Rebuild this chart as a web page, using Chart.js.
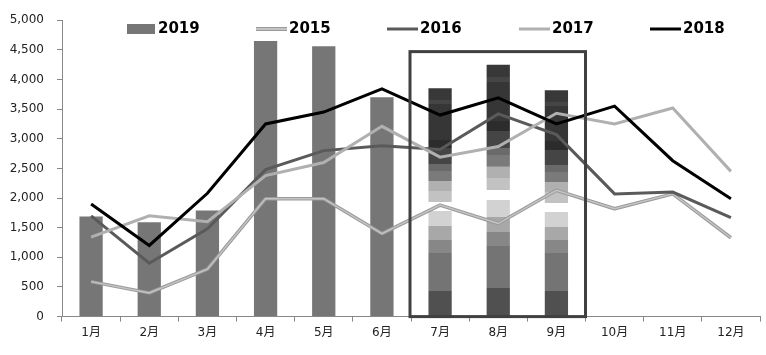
<!DOCTYPE html>
<html>
<head>
<meta charset="utf-8">
<script src="https://cdn.jsdelivr.net/npm/chart.js@4"></script>
<style>
html,body{margin:0;padding:0;background:#fff;}
#wrap{width:766px;height:355px;position:relative;}
</style>
</head>
<body>
<div id="wrap"><canvas id="c" width="766" height="355"></canvas></div>
<script>
// ---- data ----
const categories = ['1月','2月','3月','4月','5月','6月','7月','8月','9月','10月','11月','12月'];
const s2019 = [1690, 1590, 1790, 4650, 4560, 3700, 3850, 4250, 3820, null, null, null];
const s2015 = [590, 400, 800, 1990, 1990, 1400, 1880, 1570, 2130, 1820, 2070, 1330];
const s2016 = [1700, 900, 1480, 2480, 2800, 2880, 2820, 3420, 3070, 2070, 2100, 1670];
const s2017 = [1340, 1700, 1600, 2380, 2600, 3210, 2690, 2870, 3430, 3250, 3520, 2450];
const s2018 = [1900, 1200, 2080, 3250, 3450, 3840, 3400, 3690, 3250, 3550, 2630, 1990];
const yTicks = [0, 500, 1000, 1500, 2000, 2500, 3000, 3500, 4000, 4500, 5000];
const highlightMonths = ['7月', '8月', '9月'];
const highlightTopValue = 4470;

// ---- styles ----
const barColor = '#767676';
const stripeStops = [
  [0.000, '#505050'], [0.113, '#747474'], [0.280, '#878787'], [0.337, '#a8a8a8'],
  [0.397, '#d2d2d2'], [0.463, '#ffffff'], [0.502, '#c2c2c2'], [0.550, '#b0b0b0'],
  [0.596, '#7a7a7a'], [0.640, '#6a6a6a'], [0.670, '#454545'], [0.737, '#2c2c2c'],
  [0.776, '#363636'], [0.930, '#454545'], [0.950, '#383838'], [1.000, '#383838']
];

function stripedFill(ctx) {
  const chart = ctx.chart;
  const label = categories[ctx.dataIndex];
  if (!highlightMonths.includes(label) || ctx.raw == null) return barColor;
  const ys = chart.scales.y;
  if (!ys) return barColor;
  const base = ys.getPixelForValue(0);
  const top = ys.getPixelForValue(ctx.raw);
  const g = chart.ctx.createLinearGradient(0, base, 0, top);
  for (let i = 0; i < stripeStops.length; i++) {
    const [f, c] = stripeStops[i];
    const next = i + 1 < stripeStops.length ? stripeStops[i + 1][0] : 1;
    g.addColorStop(f, c);
    g.addColorStop(Math.max(f, next - 0.0005), c);
  }
  return g;
}

// outline under the 2015 line
const outlinePlugin = {
  id: 'outline2015',
  beforeDatasetDraw(chart, args) {
    const ds = chart.data.datasets[args.index];
    if (!ds.outlineColor) return;
    const pts = args.meta.data;
    const c = chart.ctx;
    c.save();
    c.beginPath();
    pts.forEach((p, i) => { if (i === 0) c.moveTo(p.x, p.y); else c.lineTo(p.x, p.y); });
    c.strokeStyle = ds.outlineColor;
    c.lineWidth = ds.outlineWidth;
    c.lineJoin = 'round';
    c.stroke();
    c.restore();
  }
};

// highlight box round 7-9月
const boxPlugin = {
  id: 'hbox',
  afterDatasetsDraw(chart) {
    const xs = chart.scales.x, ys = chart.scales.y;
    const i0 = categories.indexOf(highlightMonths[0]);
    const i1 = categories.indexOf(highlightMonths[highlightMonths.length - 1]);
    const half = (xs.getPixelForValue(1) - xs.getPixelForValue(0)) / 2;
    const l = xs.getPixelForValue(i0) - half - 1;
    const r = xs.getPixelForValue(i1) + half;
    const t = ys.getPixelForValue(highlightTopValue);
    const b = ys.getPixelForValue(0);
    const c = chart.ctx;
    c.save();
    c.strokeStyle = '#404040';
    c.lineWidth = 3;
    c.strokeRect(l, t, r - l, b - t);
    c.restore();
  }
};

// custom legend overlaid in the top of plot
const legendItems = [
  { text: '2019', type: 'rect', color: '#767676', x: 127 },
  { text: '2015', type: 'line', color: '#c4c4c4', outline: '#9a9a9a', x: 256 },
  { text: '2016', type: 'line', color: '#5a5a5a', x: 387 },
  { text: '2017', type: 'line', color: '#b0b0b0', x: 519 },
  { text: '2018', type: 'line', color: '#000000', x: 650 }
];
const legendPlugin = {
  id: 'customLegend',
  afterDraw(chart) {
    const c = chart.ctx;
    const cy = 29;
    c.save();
    c.font = 'bold 15px "DejaVu Sans"';
    c.textBaseline = 'middle';
    c.fillStyle = '#000';
    legendItems.forEach(it => {
      let tx;
      if (it.type === 'rect') {
        c.fillStyle = it.color;
        c.fillRect(it.x, cy - 5, 28, 10);
        tx = it.x + 31;
      } else {
        if (it.outline) {
          c.strokeStyle = it.outline; c.lineWidth = 4;
          c.beginPath(); c.moveTo(it.x, cy); c.lineTo(it.x + 31, cy); c.stroke();
          c.lineWidth = 2;
        } else {
          c.lineWidth = 3;
        }
        c.strokeStyle = it.color;
        c.beginPath(); c.moveTo(it.x, cy); c.lineTo(it.x + 31, cy); c.stroke();
        tx = it.x + 33;
      }
      c.fillStyle = '#000';
      c.fillText(it.text, tx, cy);
    });
    c.restore();
  }
};

new Chart(document.getElementById('c'), {
  data: {
    labels: categories,
    datasets: [
      { type: 'line', label: '2018', data: s2018, borderColor: '#000000', borderWidth: 3, pointRadius: 0, tension: 0, order: 1 },
      { type: 'line', label: '2017', data: s2017, borderColor: '#b0b0b0', borderWidth: 3, pointRadius: 0, tension: 0, order: 2 },
      { type: 'line', label: '2016', data: s2016, borderColor: '#5a5a5a', borderWidth: 3, pointRadius: 0, tension: 0, order: 3 },
      { type: 'line', label: '2015', data: s2015, borderColor: '#c4c4c4', borderWidth: 1.5, outlineColor: '#9a9a9a', outlineWidth: 3.5, pointRadius: 0, tension: 0, order: 4 },
      { type: 'bar', label: '2019', data: s2019, backgroundColor: stripedFill, barPercentage: 0.4, categoryPercentage: 1, order: 5 }
    ]
  },
  options: {
    responsive: false,
    animation: false,
    devicePixelRatio: 1,
    layout: { padding: { left: 0, top: 14, right: 6, bottom: 11 } },
    plugins: { legend: { display: false }, tooltip: { enabled: false } },
    scales: {
      x: {
        offset: true,
        grid: { display: true, drawOnChartArea: false, drawTicks: true, tickLength: 5, color: '#888', offset: true },
        border: { color: '#888', width: 1 },
        ticks: { color: '#222', font: { family: '"DejaVu Sans", "Noto Sans CJK SC"', size: 12 }, padding: 4, maxRotation: 0 }
      },
      y: {
        min: 0, max: 5000,
        afterBuildTicks(scale) { scale.ticks = yTicks.map(v => ({ value: v })); },
        afterFit(scale) { scale.width = 62; },
        grid: { display: true, drawOnChartArea: false, drawTicks: true, tickLength: 5, color: '#888' },
        border: { color: '#888', width: 1 },
        ticks: { color: '#222', font: { family: '"DejaVu Sans"', size: 12 }, padding: 13,
          callback: v => Number(v).toLocaleString('en-US') }
      }
    }
  },
  plugins: [outlinePlugin, boxPlugin, legendPlugin]
});
</script>
</body>
</html>
